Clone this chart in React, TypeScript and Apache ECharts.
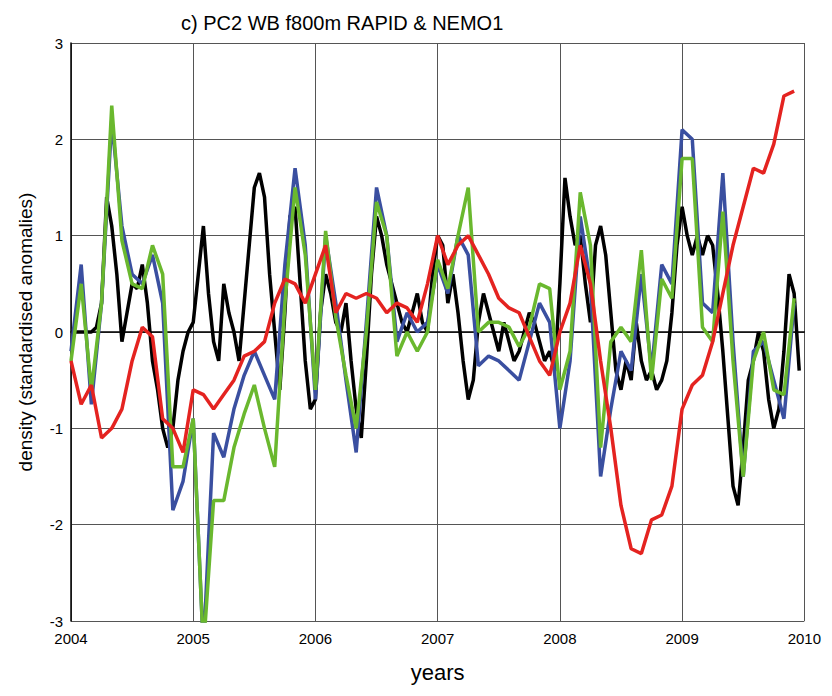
import { useRef, useEffect } from 'react';
import * as echarts from 'echarts';

// monthly series start at 2004.0
const redValues = [
  -0.3, -0.75, -0.55, -1.1, -1.0, -0.8, -0.3, 0.05, -0.05, -0.9, -1.0, -1.25,
  -0.6, -0.65, -0.8, -0.65, -0.5, -0.25, -0.2, -0.1, 0.3, 0.55, 0.5, 0.3,
  0.6, 0.9, 0.2, 0.4, 0.35, 0.4, 0.35, 0.2, 0.3, 0.25, 0.1, 0.5,
  1.0, 0.7, 0.9, 1.0, 0.8, 0.6, 0.35, 0.25, 0.2, -0.05, -0.3, -0.45,
  0.0, 0.3, 0.9, 0.5, -0.3, -1.0, -1.8, -2.25, -2.3, -1.95, -1.9, -1.6,
  -0.8, -0.55, -0.45, -0.1, 0.4, 0.9, 1.3, 1.7, 1.65, 1.95, 2.45, 2.5,
];
const blueValues = [
  -0.2, 0.7, -0.75, 0.3, 2.2, 1.1, 0.6, 0.5, 0.8, 0.3, -1.85, -1.55,
  -0.9, -3.3, -1.05, -1.3, -0.8, -0.45, -0.2, -0.45, -0.7, 0.7, 1.7, 0.9,
  -0.7, 1.0, 0.3, -0.5, -1.25, 0.1, 1.5, 1.0, -0.1, 0.2, 0.0, 0.1,
  0.7, 0.4, 1.0, 0.8, -0.35, -0.25, -0.3, -0.4, -0.5, -0.1, 0.3, 0.1,
  -1.0, -0.3, 1.2, 0.5, -1.5, -0.8, -0.2, -0.4, 0.6, -0.4, 0.7, 0.5,
  2.1, 2.0, 0.3, 0.2, 1.65, -0.1, -1.5, -0.2, -0.1, -0.5, -0.9, 0.3,
];
const greenValues = [
  -0.3, 0.5, -0.6, 0.3, 2.35, 0.95, 0.5, 0.45, 0.9, 0.6, -1.4, -1.4,
  -0.9, -3.3, -1.75, -1.75, -1.2, -0.85, -0.55, -1.0, -1.4, 0.3, 1.5, 0.8,
  -0.6, 1.05, 0.15, -0.45, -1.0, 0.0, 1.35, 1.0, -0.25, 0.0, -0.2, 0.0,
  0.75, 0.45, 1.0, 1.5, 0.0, 0.1, 0.1, 0.05, -0.15, 0.05, 0.5, 0.45,
  -0.6, -0.2, 1.45, 0.9, -1.2, -0.1, 0.05, -0.1, 0.85, -0.5, 0.55, 0.35,
  1.8, 1.8, 0.05, -0.1, 1.25, -0.3, -1.5, -0.3, 0.0, -0.6, -0.65, 0.35,
];
// RAPID, 24 samples per year from 2004.0
const blackValues = [
  0, 0, 0, 0, 0, 0.05, 0.3, 1.4, 1.1, 0.6, -0.1, 0.2, 0.5, 0.45, 0.7, 0.3, -0.3, -0.6, -1.0, -1.2, -1.0, -0.5, -0.2, 0.0,
  0.1, 0.6, 1.1, 0.4, -0.1, -0.3, 0.5, 0.2, 0.0, -0.3, 0.3, 0.9, 1.5, 1.65, 1.4, 0.6, 0.0, -0.6, 0.2, 1.2, 1.3, 0.5, -0.3, -0.8,
  -0.7, 0.2, 0.6, 0.4, 0.1, 0.0, 0.3, -0.3, -0.8, -1.1, -0.3, 0.6, 1.2, 1.0, 0.7, 0.5, 0.3, 0.1, 0.0, 0.2, 0.4, 0.1, 0.0, 0.6,
  1.0, 0.9, 0.3, 0.6, 0.2, -0.3, -0.7, -0.5, 0.1, 0.4, 0.2, 0.0, -0.2, 0.1, -0.1, -0.3, -0.2, 0.0, 0.2, 0.1, -0.1, -0.3, -0.2, -0.4,
  0.5, 1.6, 1.2, 0.9, 1.0, 0.5, 0.1, 0.9, 1.1, 0.8, 0.2, -0.4, -0.6, -0.3, -0.5, 0.1, -0.3, -0.5, -0.4, -0.6, -0.5, -0.3, 0.2, 0.9,
  1.3, 1.0, 0.8, 1.0, 0.8, 1.0, 0.9, 0.4, -0.2, -0.9, -1.6, -1.8, -1.2, -0.5, -0.3, 0.0, -0.2, -0.7, -1.0, -0.8, -0.2, 0.6, 0.4, -0.4,
];

const toPairs = (vals: number[], perYear: number) => vals.map((v, i) => [2004 + i / perYear, v]);

export default function App() {
  const ref = useRef<HTMLDivElement>(null);

  useEffect(() => {
    if (!ref.current) return;
    const chart = echarts.init(ref.current, undefined, { renderer: 'svg' });
    const font = 'Liberation Sans, Arial, sans-serif';
    const axisCommon = {
      axisLine: { show: true, lineStyle: { color: '#000', width: 1.5 } },
      axisTick: { show: false },
      splitLine: { show: true, lineStyle: { color: '#555', width: 1 } },
      axisLabel: { color: '#000', fontSize: 15, fontFamily: font },
    };
    const line = (data: number[][], color: string, width: number) => ({
      type: 'line', data, showSymbol: false, lineStyle: { color, width }, itemStyle: { color },
    });
    chart.setOption({
      animation: false,
      title: {
        text: 'c) PC2 WB f800m RAPID & NEMO1', left: 168, top: 0,
        textStyle: { fontSize: 20, fontWeight: 'normal', color: '#000', fontFamily: font },
      },
      grid: { left: 57, right: 12, top: 35, bottom: 60 },
      xAxis: {
        type: 'value', min: 2004, max: 2010, interval: 1, ...axisCommon,
        axisLabel: { ...axisCommon.axisLabel, margin: 10, formatter: (v: number) => String(v) },
        name: 'years', nameLocation: 'middle', nameGap: 40,
        nameTextStyle: { fontSize: 22, color: '#000', fontFamily: font },
      },
      yAxis: {
        type: 'value', min: -3, max: 3, interval: 1, ...axisCommon,
        name: 'density (standardised anomalies)', nameLocation: 'middle', nameGap: 36,
        nameTextStyle: { fontSize: 19, color: '#000', fontFamily: font },
      },
      series: [
        line(toPairs(blackValues, 24), '#000000', 3.5),
        line(toPairs(blueValues, 12), '#3a4fa0', 3.5),
        line(toPairs(greenValues, 12), '#6ab82e', 3.5),
        line(toPairs(redValues, 12), '#e42320', 3.5),
      ],
    });
    return () => chart.dispose();
  }, []);

  return <div ref={ref} style={{ width: 816, height: 680 }} />;
}
